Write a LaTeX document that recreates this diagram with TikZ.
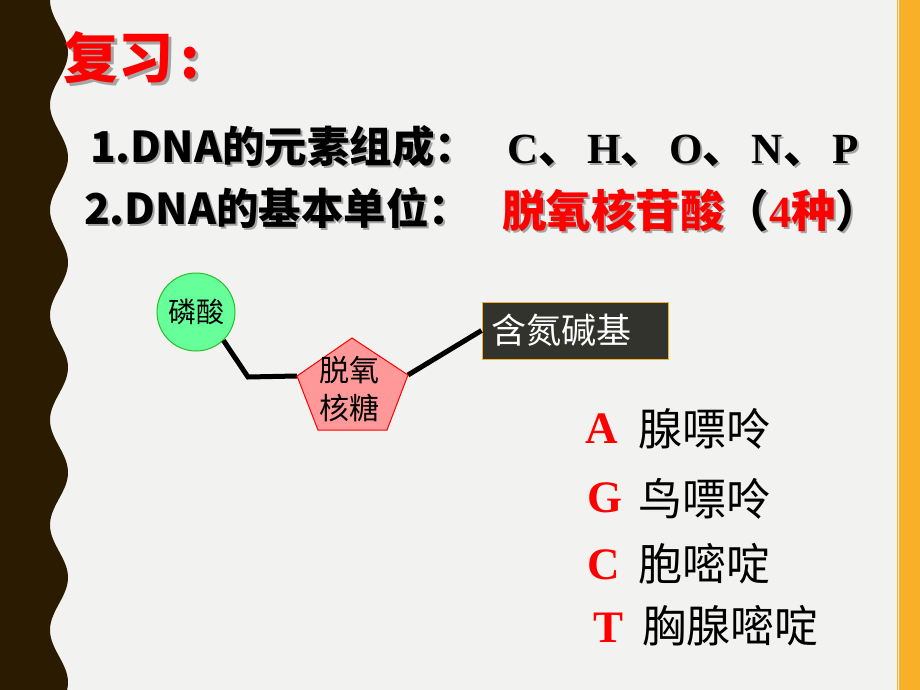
\documentclass[tikz,border=0pt]{standalone}
\usepackage{fontspec}
\setmainfont{Liberation Serif}
\newfontfamily\cjk{Noto Sans CJK SC}
\definecolor{bg}{RGB}{242,242,240}
\definecolor{bandbrown}{RGB}{43,27,0}
\definecolor{bandorange}{RGB}{247,176,39}
\definecolor{phosfill}{RGB}{102,255,153}
\definecolor{phosdraw}{RGB}{40,190,40}
\definecolor{sugarfill}{RGB}{255,153,153}
\definecolor{boxfill}{RGB}{51,51,45}
\definecolor{boxdraw}{RGB}{245,176,48}
\definecolor{shadowgray}{RGB}{165,165,165}
\newcommand\dunhao{{\cjk\bfseries 、}\hspace{6pt}}
\tikzset{
  txt/.style={anchor=base west, inner sep=0pt, outer sep=0pt},
  shade/.style={txt, text=shadowgray},
  titlefont/.style={font=\cjk\bfseries\fontsize{55}{60}\selectfont},
  headfont/.style={font=\cjk\bfseries\fontsize{42.5}{50}\selectfont},
  elemfont/.style={font=\bfseries\fontsize{43}{50}\selectfont},
  unitfont/.style={font=\cjk\bfseries\fontsize{44.5}{50}\selectfont},
  letter/.style={txt, text=red, font=\bfseries\fontsize{45}{50}\selectfont},
  basename/.style={txt, font=\cjk\fontsize{44}{50}\selectfont},
  bond/.style={line width=5pt, black, line join=miter},
  sugarshape/.style={fill=sugarfill, draw=red, line width=1pt},
}
\begin{document}
\begin{tikzpicture}[x=1pt,y=-1pt]
\fill[bg] (0,0) rectangle (920,690);
\useasboundingbox (0,0) rectangle (920,690);
% side bands
\fill[bandbrown] (0,0) -- plot[domain=0:690,samples=240,variable=\t] ({59-9*cos(3.428571*\t)},\t) -- (0,690) -- cycle;
\fill[bandorange] (899,0) rectangle (920,690);
\draw[bandorange, line width=1pt] (897.5,0) -- (897.5,690);
% title
\node[shade, titlefont] (title-sh) at (66,82) {复习\hspace{8pt}:};
\node[txt, titlefont, text=red] (title) at (63,79) {复习\hspace{8pt}:};
% line 1
\node[shade, headfont] (l1-sh) at (92,164) {1.DNA的元素组成：};
\node[txt, headfont] (l1) at (90,162) {1.DNA的元素组成：};
\node[shade, elemfont] (elem-sh) at (509,165) {C\dunhao H\dunhao O\dunhao N\dunhao P};
\node[txt, elemfont] (elem) at (507,163) {C\dunhao H\dunhao O\dunhao N\dunhao P};
% line 2
\node[shade, headfont] (l2-sh) at (86,226) {2.DNA的基本单位：};
\node[txt, headfont] (l2) at (84,224) {2.DNA的基本单位：};
\node[shade, unitfont] (unit-sh) at (504,229) {脱氧核苷酸（{\rmfamily 4}种）};
\node[txt, unitfont, text=red] (unit) at (502,227) {脱氧核苷酸\textcolor{black}{（}{\rmfamily 4}种\textcolor{black}{）}};
% nucleotide diagram
\node[circle, minimum size=78pt, inner sep=0pt, fill=phosfill, draw=phosdraw, line width=1pt,
      font=\cjk\fontsize{28}{30}\selectfont] (phos) at (196,312) {\raisebox{2pt}{磷酸}};
\coordinate (bend) at (248,377);
\coordinate (pl) at (297,376);
\coordinate (pt) at (352,338);
\coordinate (pr) at (408,375);
\coordinate (pbr) at (387,430);
\coordinate (pbl) at (318,430);
\node[fill=boxfill, draw=boxdraw, line width=1pt, minimum width=186pt, minimum height=57pt,
      text width=168pt, align=left, inner xsep=9pt, inner ysep=0pt, text=white,
      font=\cjk\fontsize{35}{40}\selectfont] (base) at (575,330.5) {含氮碱基};
\draw[bond] (phos.-46) -- (bend) -- (pl);
\draw[bond] (pr) -- (base.west);
\draw[sugarshape] (pt) -- (pr) -- (pbr) -- (pbl) -- (pl) -- cycle;
\node[align=center, inner sep=0pt, font=\cjk\fontsize{30}{38}\selectfont] (sugar) at (349,389) {脱氧\\核糖};
% bases
\node[letter] (A) at (585,443) {A};
\node[basename] (A-name) at (638,445) {腺嘌呤};
\node[letter] (G) at (587,512) {G};
\node[basename] (G-name) at (638,515) {鸟嘌呤};
\node[letter] (C) at (587,579) {C};
\node[basename] (C-name) at (638,580) {胞嘧啶};
\node[letter] (T) at (593,642) {T};
\node[basename] (T-name) at (642,642) {胸腺嘧啶};
\end{tikzpicture}
\end{document}
